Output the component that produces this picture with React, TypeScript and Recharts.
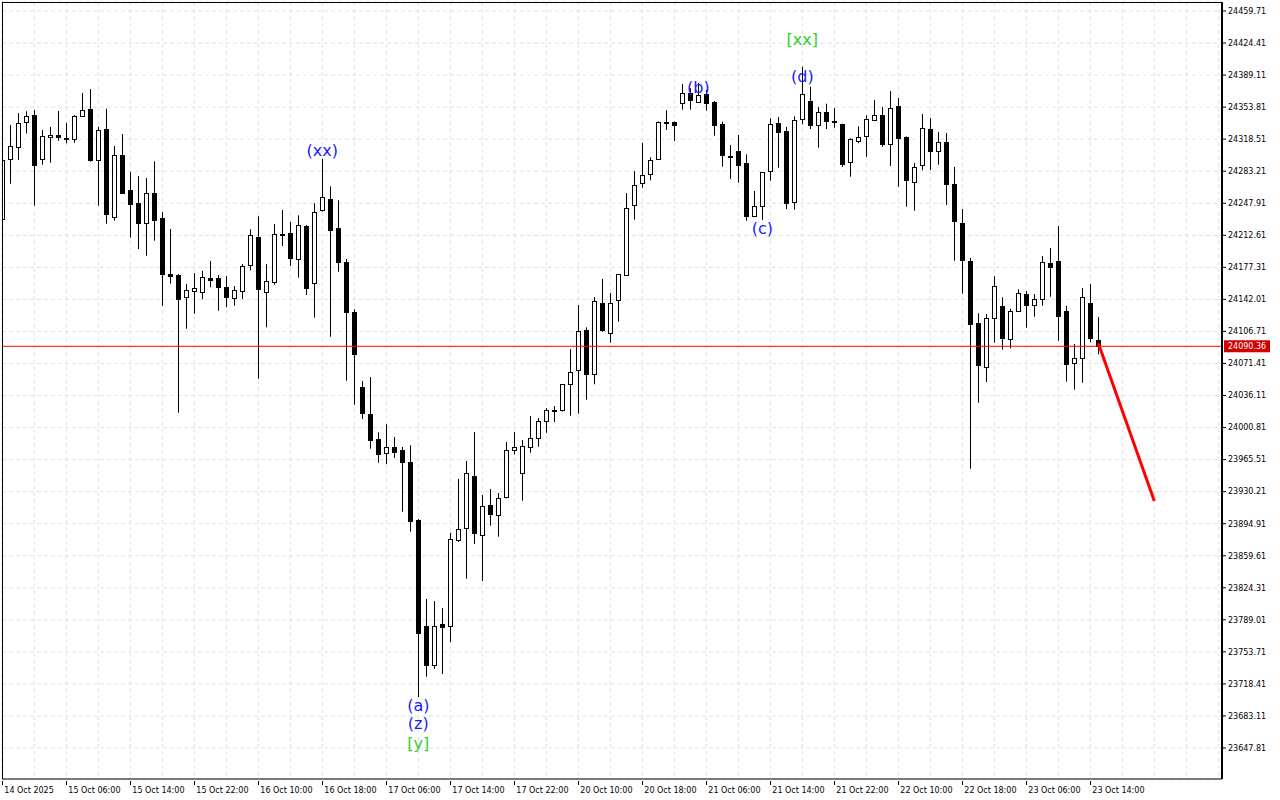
import React from "react";
import {
  ComposedChart,
  Bar,
  Scatter,
  XAxis,
  YAxis,
  CartesianGrid,
  ReferenceLine,
} from "recharts";

// hourly OHLC (index 0 = first bar at the left edge)
const opens = [
  24230.6, 24296.3, 24309.6, 24337.8, 24345.1, 24296.3, 24320.6, 24322.8, 24319.8, 24318.4,
  24343.7, 24351.7, 24295.2, 24329.7, 24232.4, 24301.1, 24262.5, 24248.5, 24225.8, 24259.2,
  24231.3, 24170.0, 24168.9, 24144.3, 24150.9, 24149.8, 24165.6, 24165.6, 24155.6, 24143.2,
  24151.2, 24179.6, 24210.4, 24149.8, 24160.4, 24213.7, 24214.8, 24186.2, 24222.9, 24159.3,
  24239.7, 24252.3, 24220.3, 24182.9, 24127.8, 24045.1, 24015.7, 23988.2, 23972.4, 23979.0,
  23975.7, 23962.8, 23898.6, 23781.8, 23738.4, 23784.0, 23781.4, 23877.3, 23889.4, 23947.4,
  23882.8, 23915.1, 23904.8, 23923.5, 23975.7, 23950.4, 23979.0, 23989.0, 24007.7, 24020.1,
  24019.8, 24048.5, 24063.9, 24107.9, 24059.5, 24137.7, 24104.6, 24141.0, 24168.5, 24245.7,
  24269.9, 24279.8, 24296.3, 24337.1, 24337.1, 24358.0, 24369.0, 24360.2, 24368.3, 24359.1,
  24335.6, 24300.0, 24305.5, 24292.3, 24233.1, 24244.6, 24283.1, 24336.3, 24327.5, 24250.1,
  24340.0, 24360.2, 24333.8, 24348.1, 24338.2, 24334.9, 24293.0, 24317.3, 24321.7, 24339.3,
  24344.8, 24312.9, 24355.1, 24320.9, 24271.0, 24289.3, 24329.7, 24305.1, 24315.4, 24268.8,
  24225.8, 24184.0, 24115.7, 24067.2, 24121.2, 24134.4, 24098.7, 24128.9, 24147.6, 24135.5,
  24142.1, 24182.1, 24184.0, 24128.9, 24071.6, 24077.1, 24137.7, 24096.9,
];
const highs = [
  24297.8, 24334.1, 24347.3, 24349.2, 24350.6, 24328.6, 24331.9, 24349.5, 24336.3, 24345.1,
  24369.4, 24373.8, 24332.2, 24352.1, 24311.0, 24324.2, 24282.3, 24277.9, 24275.7, 24294.1,
  24238.3, 24219.5, 24170.0, 24159.0, 24171.1, 24173.3, 24184.3, 24168.9, 24167.8, 24156.7,
  24181.0, 24219.2, 24233.5, 24181.0, 24225.1, 24240.5, 24227.3, 24234.6, 24224.0, 24247.9,
  24296.7, 24266.6, 24251.2, 24186.5, 24131.1, 24052.1, 24056.5, 23995.6, 24004.4, 23990.4,
  23979.4, 23981.2, 23900.0, 23811.9, 23809.7, 23802.0, 23885.0, 23944.1, 23964.0, 23995.9,
  23926.5, 23933.1, 23928.7, 23984.9, 23995.9, 23987.1, 24013.5, 24011.3, 24022.3, 24024.5,
  24048.5, 24087.3, 24135.8, 24111.2, 24144.6, 24164.5, 24149.0, 24169.6, 24259.2, 24283.4,
  24314.3, 24298.5, 24338.2, 24350.3, 24338.0, 24379.3, 24374.6, 24380.4, 24372.7, 24360.6,
  24337.8, 24312.1, 24323.1, 24301.8, 24261.4, 24282.0, 24341.5, 24342.9, 24331.9, 24343.7,
  24398.3, 24376.3, 24354.0, 24357.6, 24352.9, 24335.5, 24319.5, 24332.7, 24344.8, 24361.7,
  24354.0, 24371.6, 24363.9, 24321.5, 24292.3, 24346.2, 24341.8, 24326.4, 24325.3, 24287.9,
  24241.6, 24187.6, 24126.7, 24125.9, 24167.4, 24144.3, 24131.7, 24153.1, 24151.2, 24147.9,
  24189.8, 24198.6, 24222.9, 24135.0, 24092.9, 24154.5, 24159.0, 24122.6,
];
const lows = [
  24227.3, 24269.4, 24295.6, 24325.0, 24245.2, 24290.4, 24292.6, 24316.8, 24314.0, 24314.6,
  24343.0, 24293.7, 24245.2, 24225.4, 24228.7, 24258.8, 24210.0, 24197.5, 24190.1, 24206.7,
  24135.0, 24159.3, 24017.2, 24109.7, 24126.2, 24142.1, 24155.3, 24129.5, 24133.3, 24135.0,
  24142.4, 24174.0, 24054.6, 24111.2, 24158.2, 24200.8, 24178.8, 24165.9, 24146.8, 24121.8,
  24238.6, 24100.9, 24172.5, 24052.4, 24026.0, 24010.2, 23977.5, 23962.1, 23960.6, 23967.3,
  23908.1, 23886.1, 23704.0, 23726.3, 23735.1, 23729.3, 23764.5, 23874.7, 23834.3, 23872.5,
  23831.7, 23892.7, 23880.6, 23922.8, 23971.1, 23920.2, 23973.1, 23979.7, 23995.1, 24006.9,
  24018.3, 24013.9, 24016.1, 24031.5, 24048.5, 24106.1, 24094.3, 24117.4, 24167.8, 24229.8,
  24265.0, 24273.2, 24295.6, 24328.6, 24316.5, 24351.0, 24351.0, 24359.5, 24349.9, 24322.3,
  24288.2, 24274.6, 24270.6, 24228.7, 24232.5, 24229.5, 24272.8, 24287.1, 24241.6, 24240.8,
  24334.9, 24329.7, 24309.1, 24329.7, 24331.1, 24287.9, 24277.2, 24314.0, 24299.2, 24338.6,
  24310.2, 24289.0, 24266.1, 24244.1, 24239.7, 24284.2, 24284.5, 24290.4, 24246.0, 24184.6,
  24148.3, 23955.5, 24028.2, 24051.0, 24094.3, 24086.6, 24088.1, 24128.2, 24110.8, 24122.9,
  24135.0, 24145.0, 24096.5, 24051.3, 24042.5, 24050.2, 24094.7, 24081.5,
];
const closes = [
  24295.6, 24310.7, 24336.0, 24344.0, 24290.4, 24321.7, 24322.8, 24320.6, 24318.4, 24344.0,
  24350.6, 24295.6, 24328.6, 24236.4, 24300.7, 24259.5, 24247.4, 24226.5, 24258.9, 24229.8,
  24169.2, 24168.1, 24142.8, 24152.0, 24154.2, 24166.3, 24163.0, 24156.0, 24144.3, 24152.0,
  24178.4, 24212.6, 24152.7, 24161.9, 24213.7, 24213.3, 24187.3, 24223.6, 24154.9, 24237.9,
  24254.5, 24217.7, 24182.4, 24127.3, 24081.5, 24016.1, 23987.4, 23972.0, 23979.0, 23973.3,
  23962.1, 23898.2, 23773.7, 23739.2, 23781.8, 23780.3, 23877.7, 23889.0, 23950.4, 23884.6,
  23914.4, 23904.8, 23923.2, 23975.7, 23979.0, 23980.5, 23989.0, 24007.7, 24019.8, 24018.7,
  24048.5, 24061.7, 24106.8, 24059.5, 24139.9, 24108.3, 24137.7, 24169.6, 24242.4, 24267.7,
  24278.7, 24295.2, 24337.1, 24336.3, 24333.8, 24369.0, 24360.9, 24367.5, 24358.0, 24333.4,
  24301.4, 24298.9, 24290.4, 24234.2, 24244.6, 24282.0, 24334.9, 24326.7, 24248.5, 24340.0,
  24367.9, 24333.4, 24348.1, 24338.2, 24337.4, 24290.4, 24318.4, 24321.2, 24340.4, 24344.8,
  24312.9, 24352.5, 24320.1, 24273.2, 24287.5, 24330.5, 24305.1, 24315.1, 24269.5, 24227.6,
  24184.6, 24114.1, 24068.9, 24121.2, 24156.4, 24098.7, 24129.2, 24148.7, 24135.0, 24142.1,
  24182.9, 24177.4, 24122.9, 24070.0, 24077.1, 24144.3, 24098.7, 24090.36,
];

// one label every 8 bars
const timeLabels = [
  "14 Oct 2025", "15 Oct 06:00", "15 Oct 14:00", "15 Oct 22:00", "16 Oct 10:00",
  "16 Oct 18:00", "17 Oct 06:00", "17 Oct 14:00", "17 Oct 22:00", "20 Oct 10:00",
  "20 Oct 18:00", "21 Oct 06:00", "21 Oct 14:00", "21 Oct 22:00", "22 Oct 10:00",
  "22 Oct 18:00", "23 Oct 06:00", "23 Oct 14:00",
];

const priceTicks = [
  24459.71, 24424.41, 24389.11, 24353.81, 24318.51, 24283.21, 24247.91, 24212.61,
  24177.31, 24142.01, 24106.71, 24071.41, 24036.11, 24000.81, 23965.51, 23930.21,
  23894.91, 23859.61, 23824.31, 23789.01, 23753.71, 23718.41, 23683.11, 23647.81,
];

const lastPrice = 24090.36;
const forecast = [
  { x: 137, y: 24093.6 },
  { x: 144, y: 23919.9 },
];

const waveLabels = [
  { i: 40, p: 24305.5, t: "(xx)", col: "#1a1aff" },
  { i: 52, p: 23695.1, t: "(a)", col: "#1a1aff" },
  { i: 52, p: 23675.3, t: "(z)", col: "#1a1aff" },
  { i: 52, p: 23653.3, t: "[y]", col: "#32cd32" },
  { i: 87, p: 24374.9, t: "(b)", col: "#1a1aff" },
  { i: 95, p: 24220.6, t: "(c)", col: "#1a1aff" },
  { i: 100, p: 24388.1, t: "(d)", col: "#1a1aff" },
  { i: 100, p: 24427.8, t: "[xx]", col: "#32cd32" },
];

const candles = opens.map((o, i) => ({
  i,
  o,
  h: highs[i],
  l: lows[i],
  c: closes[i],
  range: [lows[i], highs[i]],
}));

const gridTicks = Array.from({ length: 39 }, (_, k) => k * 4);
const FONT = "DejaVu Sans";

const Candle = (props: any) => {
  const { x, y, width, height, payload } = props;
  const { o, h, l, c } = payload;
  const top = Math.min(y, y + height);
  const span = Math.abs(height);
  const k = h === l ? 0 : span / (h - l);
  const cx = Math.round(x + width / 2) + 0.5;
  const yO = top + (h - o) * k;
  const yC = top + (h - c) * k;
  const up = c >= o;
  const bTop = Math.round(Math.min(yO, yC)) + 0.5;
  const bH = Math.max(Math.round(Math.abs(yO - yC)), 1);
  return (
    <g>
      <line x1={cx} x2={cx} y1={top} y2={top + span} stroke="#000" strokeWidth={1} />
      <rect
        x={cx - 2}
        y={bTop}
        width={4}
        height={bH}
        fill={up ? "#fff" : "#000"}
        stroke="#000"
        strokeWidth={1}
      />
    </g>
  );
};

const TimeTick = (props: any) => {
  const { x, y, payload } = props;
  const v = payload.value;
  if (v % 8 !== 0) return null;
  const label = timeLabels[v / 8];
  if (!label) return null;
  const tx = Math.round(x) + 0.5;
  return (
    <g>
      <line x1={tx} x2={tx} y1={y} y2={y + 4} stroke="#000" />
      <text x={x + 2} y={y + 12} fontSize={8} fontFamily={FONT} fill="#000">
        {label}
      </text>
    </g>
  );
};

const WaveText = (props: any) => {
  const { cx, cy, payload } = props;
  return (
    <text
      x={cx}
      y={cy}
      textAnchor="middle"
      dominantBaseline="central"
      fontSize={16}
      fontFamily={FONT}
      fill={payload.col}
    >
      {payload.t}
    </text>
  );
};

const PriceTag = (props: any) => {
  const { viewBox } = props;
  const x0 = viewBox.x + viewBox.width + 2;
  return (
    <g>
      <rect x={x0} y={viewBox.y - 6} width={46} height={12} fill="#d00000" />
      <text x={x0 + 4} y={viewBox.y + 3} fontSize={8} fontFamily={FONT} fill="#fff">
        {lastPrice.toFixed(2)}
      </text>
    </g>
  );
};

export default function App() {
  return (
    <div style={{ position: "absolute", left: 0, top: 0, width: 1280, height: 800, background: "#fff" }}>
      <ComposedChart
        width={1280}
        height={800}
        data={candles}
        margin={{ top: 2, right: 0, bottom: 0, left: 2 }}
      >
        <CartesianGrid stroke="#e2e2e2" strokeDasharray="4 3" />
        <XAxis
          type="number"
          dataKey="i"
          domain={[-0.04, 152.46]}
          allowDataOverflow
          ticks={gridTicks}
          interval={0}
          tick={<TimeTick />}
          tickLine={false}
          tickSize={0}
          height={21}
          axisLine={{ stroke: "#000" }}
        />
        <YAxis
          orientation="right"
          type="number"
          domain={[23613.66, 24469.62]}
          allowDataOverflow
          ticks={priceTicks}
          interval={0}
          width={58}
          tickSize={4}
          tickMargin={2}
          tickLine={{ stroke: "#000" }}
          axisLine={{ stroke: "#000", strokeWidth: 2 }}
          tickFormatter={(v: number) => v.toFixed(2)}
          tick={{ fontSize: 8, fontFamily: FONT, fill: "#000", textAnchor: "start" }}
        />
        <ReferenceLine y={lastPrice} stroke="#ff0000" strokeWidth={1} label={<PriceTag />} />
        <Bar
          dataKey="range"
          barSize={5}
          shape={<Candle />}
          isAnimationActive={false}
        />
        <ReferenceLine segment={forecast} stroke="#ff0000" strokeWidth={3} />
        <Scatter data={waveLabels} dataKey="p" shape={<WaveText />} isAnimationActive={false} />
      </ComposedChart>
      <div
        style={{
          position: "absolute",
          left: 2,
          top: 2,
          width: 1220,
          height: 777,
          borderLeft: "1px solid #000",
          borderTop: "1px solid #000",
          boxSizing: "border-box",
          pointerEvents: "none",
        }}
      />
    </div>
  );
}
